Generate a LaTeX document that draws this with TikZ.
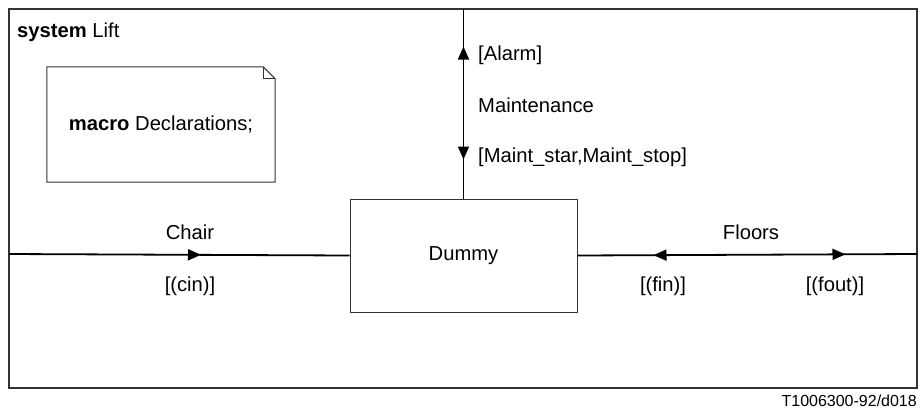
\documentclass[tikz,border=0pt]{standalone}
\usepackage{fontspec}
\setmainfont{Liberation Sans}
\usetikzlibrary{arrows.meta,decorations.markings}
\tikzset{
  txt/.style={inner sep=0pt, font=\fontsize{20.2}{24}\selectfont},
  conn/.style={line width=1.8pt, draw=black},
  tri/.tip={Triangle[length=13pt,width=11pt]},
  frame/.style={line width=1.3pt, draw=black!80},
  block/.style={draw=black!80, line width=1pt, minimum width=227pt, minimum height=113pt, inner sep=0pt, font=\fontsize{20.2}{24}\selectfont},
}
\begin{document}
\begin{tikzpicture}[x=1pt,y=-1pt]
\useasboundingbox (0,0) rectangle (920,408);
\draw[frame] (9,9) rectangle (917,388);
\node[txt, anchor=base west] (title) at (17,37) {\textbf{system} Lift};
% note
\node[txt, minimum width=228pt, minimum height=115pt] (note) at (161,124.5) {\textbf{macro} Declarations;};
\draw[draw=black!80, line width=1pt] (note.north west) -- ([xshift=-12pt]note.north east) -- ([yshift=-12pt]note.north east) -- (note.south east) -- (note.south west) -- cycle;
\draw[draw=black!80, line width=0.8pt] ([xshift=-12pt]note.north east) -- ([xshift=-12pt,yshift=-12pt]note.north east) -- ([yshift=-12pt]note.north east);
% dummy
\node[block] (dummy) at (463.5,255.5) {Dummy};
\coordinate (top) at (463.5,9);
\coordinate (lft) at (9,254);
\coordinate (rgt) at (917,254);
% vertical
\draw[conn, postaction={decorate}, decoration={markings,
  mark=at position 152pt with {\arrow{tri}},
  mark=at position 39pt with {\arrowreversed{tri}}}] (dummy.north) -- (top);
\node[txt, anchor=west] (alarm) at (478,55) {[Alarm]};
\node[txt, anchor=west] (maint) at (478,105) {Maintenance};
\node[txt, anchor=west] (mss) at (478,157) {[Maint\_star,Maint\_stop]};
% left
\draw[conn, postaction={decorate}, decoration={markings,
  mark=at position 192pt with {\arrow{tri}}}] (lft) -- (dummy.west);
\node[txt] (chair) at (190,232) {Chair};
\node[txt] (cin) at (190,286) {[(cin)]};
% right
\draw[conn, postaction={decorate}, decoration={markings,
  mark=at position 76pt with {\arrowreversed{tri}},
  mark=at position 268pt with {\arrow{tri}}}] (dummy.east) -- (rgt);
\node[txt] (floors) at (751,232) {Floors};
\node[txt] (fin) at (663,286) {[(fin)]};
\node[txt] (fout) at (835,286) {[(fout)]};
\node[inner sep=0pt, anchor=base east, font=\fontsize{16}{19}\selectfont] (ref) at (917,406) {T1006300-92/d018};
\end{tikzpicture}
\end{document}
